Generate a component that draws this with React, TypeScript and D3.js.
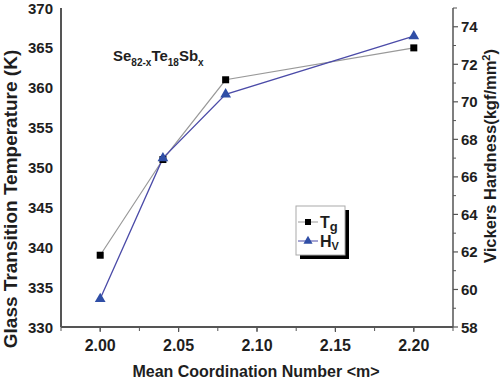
import React from "react";
import * as d3 from "d3";

const coordination = [2.0, 2.04, 2.08, 2.2];
const tgValues = [339, 351, 361, 365];
const hvValues = [59.5, 67.0, 70.4, 73.5];
const xTicks = [2.0, 2.05, 2.1, 2.15, 2.2];
const leftTicks = [330, 335, 340, 345, 350, 355, 360, 365, 370];
const rightTicks = [58, 60, 62, 64, 66, 68, 70, 72, 74];

const W = 500, H = 380;
const M = { left: 61, right: 453, top: 8, bottom: 327 };
const FONT = "'Liberation Sans', Arial, sans-serif";
const TXT = "#1e1e1e";

export default function App() {
  const x = d3.scaleLinear().domain([1.975, 2.225]).range([M.left, M.right]);
  const yL = d3.scaleLinear().domain([330, 370]).range([M.bottom, M.top]);
  const yR = d3.scaleLinear().domain([58, 75]).range([M.bottom, M.top]);
  const tgLine = d3.line<number>().x((_, i) => x(coordination[i])).y((d) => yL(d));
  const hvLine = d3.line<number>().x((_, i) => x(coordination[i])).y((d) => yR(d));
  const tri = d3.symbol().type(d3.symbolTriangle).size(50)();
  const xMinor = d3.range(1.975, 2.2251, 0.025);
  const rMinor = d3.range(59, 75, 2);

  return (
    <svg width={W} height={H} style={{ position: "absolute", left: 0, top: 0, background: "#fff" }} fontFamily={FONT}>
      {/* axes */}
      <line x1={M.left} x2={M.left} y1={M.top} y2={M.bottom} stroke="#555" strokeWidth={2} />
      <line x1={M.right} x2={M.right} y1={M.top} y2={M.bottom} stroke="#555" strokeWidth={1.5} />
      <line x1={M.left} x2={M.right} y1={M.bottom} y2={M.bottom} stroke="#555" strokeWidth={2} />
      {xMinor.map((t, i) => (
        <line key={"xm" + i} x1={x(t)} x2={x(t)} y1={M.bottom} y2={M.bottom + 4} stroke="#555" strokeWidth={1} />
      ))}
      {xTicks.map((t) => (
        <g key={"xt" + t}>
          <line x1={x(t)} x2={x(t)} y1={M.bottom} y2={M.bottom + 5} stroke="#555" strokeWidth={1.2} />
          <text x={x(t)} y={351} textAnchor="middle" fontSize={16} fontWeight="bold" fill={TXT}>
            {t.toFixed(2)}
          </text>
        </g>
      ))}
      {leftTicks.map((t) => (
        <text key={"lt" + t} x={53} y={yL(t) + 5.5} textAnchor="end" fontSize={15} fontWeight="bold" fill={TXT}>
          {t}
        </text>
      ))}
      {rMinor.map((t) => (
        <line key={"rm" + t} x1={M.right} x2={M.right + 3} y1={yR(t)} y2={yR(t)} stroke="#555" strokeWidth={1} />
      ))}
      <line x1={M.right} x2={M.right + 4} y1={yR(75)} y2={yR(75)} stroke="#555" strokeWidth={1} />
      {rightTicks.map((t) => (
        <g key={"rt" + t}>
          <line x1={M.right} x2={M.right + 5} y1={yR(t)} y2={yR(t)} stroke="#555" strokeWidth={1.2} />
          <text x={461} y={yR(t) + 5.5} fontSize={15} fontWeight="bold" fill={TXT}>
            {t}
          </text>
        </g>
      ))}

      {/* axis titles */}
      <text x={256} y={377} textAnchor="middle" fontSize={16} fontWeight="bold" fill={TXT}>
        Mean Coordination Number &lt;m&gt;
      </text>
      <text transform={`translate(17,199) rotate(-90)`} textAnchor="middle" fontSize={19} fontWeight="bold" fill={TXT}>
        Glass Transition Temperature (K)
      </text>
      <text transform={`translate(496,156) rotate(-90)`} textAnchor="middle" fontSize={16.5} fontWeight="bold" fill={TXT}>
        Vickers Hardness(kgf/mm<tspan dy={-6} fontSize={11}>2</tspan><tspan dy={6}>)</tspan>
      </text>

      {/* composition label */}
      <text x={113} y={61} fontSize={15} fontWeight="bold" fill={TXT}>
        Se<tspan dy={5} fontSize={10}>82-x</tspan>
        <tspan dy={-5}>Te</tspan>
        <tspan dy={5} fontSize={10}>18</tspan>
        <tspan dy={-5}>Sb</tspan>
        <tspan dy={5} fontSize={10}>x</tspan>
      </text>

      {/* series */}
      <path d={tgLine(tgValues) || ""} fill="none" stroke="#999" strokeWidth={1.2} />
      <path d={hvLine(hvValues) || ""} fill="none" stroke="#4b4ba8" strokeWidth={1.3} />
      {tgValues.map((v, i) => (
        <rect key={"tg" + i} x={x(coordination[i]) - 3.5} y={yL(v) - 3.5} width={7} height={7} fill="#000" />
      ))}
      {hvValues.map((v, i) => (
        <path key={"hv" + i} d={tri || ""} transform={`translate(${x(coordination[i])},${yR(v)})`} fill="#2f4ea6" />
      ))}

      {/* legend */}
      <rect x={300} y={210} width={49} height={49} fill="#000" />
      <rect x={296} y={206} width={49} height={49} fill="#fff" stroke="#aaa" strokeWidth={1} />
      <line x1={298} x2={318} y1={222} y2={222} stroke="#999" strokeWidth={1} />
      <rect x={305} y={219} width={6} height={6} fill="#000" />
      <text x={320} y={228} fontSize={16} fontWeight="bold" fill={TXT}>
        T<tspan dy={3} fontSize={13}>g</tspan>
      </text>
      <line x1={298} x2={318} y1={241} y2={241} stroke="#4b4ba8" strokeWidth={1} />
      <path d={d3.symbol().type(d3.symbolTriangle).size(36)() || ""} transform="translate(308,241)" fill="#2f4ea6" />
      <text x={320} y={247} fontSize={16} fontWeight="bold" fill={TXT}>
        H<tspan dy={3} fontSize={11}>V</tspan>
      </text>
    </svg>
  );
}
